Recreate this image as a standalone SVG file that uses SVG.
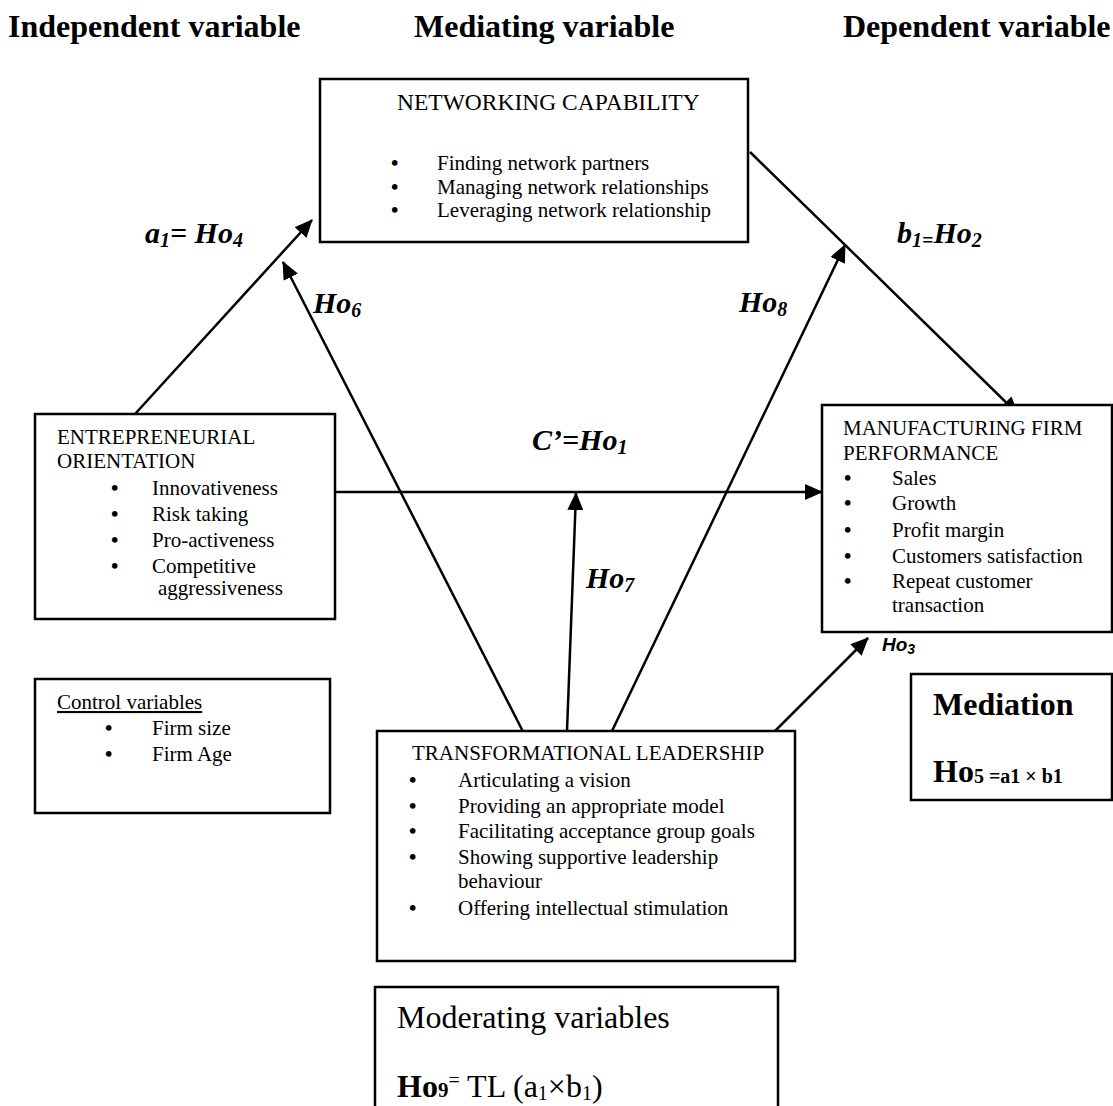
<svg xmlns="http://www.w3.org/2000/svg" width="1113" height="1106" viewBox="0 0 1113 1106">
  <style>
    .box { fill: #ffffff; stroke: #000000; stroke-width: 2.5; }
    .t { font-family: "Liberation Serif", "Times New Roman", serif; font-size: 21px; fill: #000000; }
    .b { font-family: "Liberation Serif", "Times New Roman", serif; font-size: 21px; font-weight: bold; fill: #000000; }
    .title { font-family: "Liberation Serif", "Times New Roman", serif; font-size: 23.5px; fill: #000000; }
    .head { font-family: "Liberation Serif", "Times New Roman", serif; font-size: 32px; font-weight: bold; fill: #000000; }
    .hyp { font-family: "Liberation Serif", "Times New Roman", serif; font-size: 30px; font-weight: bold; font-style: italic; fill: #000000; }
    .hyps { font-family: "Liberation Sans", Arial, sans-serif; font-size: 19px; font-weight: bold; font-style: italic; fill: #000000; }
    .big { font-family: "Liberation Serif", "Times New Roman", serif; font-size: 32px; fill: #000000; }
    .bold { font-weight: bold; }
    .sub { font-size: 20px; }
    .conn line { stroke: #000000; stroke-width: 2.5; fill: none; marker-end: url(#arrow); }
  </style>
  <defs>
    <marker id="arrow" markerUnits="userSpaceOnUse" markerWidth="18" markerHeight="16" refX="17" refY="8" orient="auto">
      <path d="M0,0 L18,8 L0,16 Z" fill="#000000"/>
    </marker>
  </defs>

  <rect width="1113" height="1106" fill="#ffffff"/>

  <!-- column headings -->
  <g id="headings">
    <text class="head" x="8" y="37">Independent variable</text>
    <text class="head" x="414" y="37">Mediating variable</text>
    <text class="head" x="843" y="37">Dependent variable</text>
  </g>

  <!-- connectors -->
  <g id="connectors" class="conn">
    <line x1="135" y1="414" x2="312" y2="220"/>
    <line x1="750" y1="152" x2="1018" y2="414"/>
    <line x1="335" y1="492" x2="822" y2="492"/>
    <line x1="522.7" y1="731" x2="283" y2="262"/>
    <line x1="567" y1="731" x2="576" y2="493"/>
    <line x1="612" y1="731" x2="845" y2="245"/>
    <line x1="775" y1="731" x2="868" y2="638"/>
  </g>

  <!-- hypothesis labels -->
  <g id="labels">
    <text class="hyp" x="145" y="243">a<tspan class="sub" dy="4">1</tspan><tspan dy="-4">= Ho</tspan><tspan class="sub" dy="4">4</tspan></text>
    <text class="hyp" x="897" y="243">b<tspan class="sub" dy="4">1=</tspan><tspan dy="-4">Ho</tspan><tspan class="sub" dy="4">2</tspan></text>
    <text class="hyp" x="313" y="313">Ho<tspan class="sub" dy="4">6</tspan></text>
    <text class="hyp" x="739" y="312">Ho<tspan class="sub" dy="4">8</tspan></text>
    <text class="hyp" x="532" y="450">C’=Ho<tspan class="sub" dy="4">1</tspan></text>
    <text class="hyp" x="586" y="588">Ho<tspan class="sub" dy="4">7</tspan></text>
    <text class="hyps" x="882" y="651">Ho<tspan font-size="14" dy="3">3</tspan></text>
  </g>

  <!-- mediator -->
  <g id="networking-capability">
    <rect class="box" x="320" y="79" width="428" height="163"/>
    <text class="title" x="397" y="110">NETWORKING CAPABILITY</text>
    <text class="b" x="391" y="170">•</text><text class="t" x="437" y="170">Finding network partners</text>
    <text class="b" x="391" y="194">•</text><text class="t" x="437" y="194">Managing network relationships</text>
    <text class="b" x="391" y="217">•</text><text class="t" x="437" y="217">Leveraging network relationship</text>
  </g>

  <!-- independent variable -->
  <g id="entrepreneurial-orientation">
    <rect class="box" x="35" y="414" width="300" height="205"/>
    <text class="t" x="57" y="444">ENTREPRENEURIAL</text>
    <text class="t" x="57" y="468">ORIENTATION</text>
    <text class="b" x="111" y="495">•</text><text class="t" x="152" y="495">Innovativeness</text>
    <text class="b" x="111" y="521">•</text><text class="t" x="152" y="521">Risk taking</text>
    <text class="b" x="111" y="547">•</text><text class="t" x="152" y="547">Pro-activeness</text>
    <text class="b" x="111" y="573">•</text><text class="t" x="152" y="573">Competitive</text>
    <text class="t" x="158" y="595">aggressiveness</text>
  </g>

  <!-- dependent variable -->
  <g id="firm-performance">
    <rect class="box" x="822" y="405" width="290" height="227"/>
    <text class="t" x="843" y="435">MANUFACTURING FIRM</text>
    <text class="t" x="843" y="460">PERFORMANCE</text>
    <text class="b" x="844" y="485">•</text><text class="t" x="892" y="485">Sales</text>
    <text class="b" x="844" y="510">•</text><text class="t" x="892" y="510">Growth</text>
    <text class="b" x="844" y="537">•</text><text class="t" x="892" y="537">Profit margin</text>
    <text class="b" x="844" y="563">•</text><text class="t" x="892" y="563">Customers satisfaction</text>
    <text class="b" x="844" y="588">•</text><text class="t" x="892" y="588">Repeat customer</text>
    <text class="t" x="892" y="612">transaction</text>
  </g>

  <!-- control variables -->
  <g id="control-variables">
    <rect class="box" x="35" y="679" width="295" height="134"/>
    <text class="t" x="57" y="709" text-decoration="underline">Control variables</text>
    <text class="b" x="105" y="735">•</text><text class="t" x="152" y="735">Firm size</text>
    <text class="b" x="105" y="761">•</text><text class="t" x="152" y="761">Firm Age</text>
  </g>

  <!-- moderator -->
  <g id="transformational-leadership">
    <rect class="box" x="377" y="731" width="418" height="230"/>
    <text class="t" x="412" y="760">TRANSFORMATIONAL LEADERSHIP</text>
    <text class="b" x="409" y="787">•</text><text class="t" x="458" y="787">Articulating a vision</text>
    <text class="b" x="409" y="813">•</text><text class="t" x="458" y="813">Providing an appropriate model</text>
    <text class="b" x="409" y="838">•</text><text class="t" x="458" y="838">Facilitating acceptance group goals</text>
    <text class="b" x="409" y="864">•</text><text class="t" x="458" y="864">Showing supportive leadership</text>
    <text class="t" x="458" y="888">behaviour</text>
    <text class="b" x="409" y="915">•</text><text class="t" x="458" y="915">Offering intellectual stimulation</text>
  </g>

  <!-- mediation formula -->
  <g id="mediation">
    <rect class="box" x="911" y="674" width="201" height="126"/>
    <text class="head" x="933" y="715" font-size="30">Mediation</text>
    <text class="head" x="933" y="782" font-size="31">Ho<tspan font-size="20" dy="1">5 =a1 × b1</tspan></text>
  </g>

  <!-- moderation formula -->
  <g id="moderating-variables">
    <rect class="box" x="375" y="987" width="403" height="140"/>
    <text class="big" x="397" y="1028">Moderating variables</text>
    <text class="big" x="397" y="1097"><tspan class="bold">Ho</tspan><tspan class="bold" font-size="21">9</tspan><tspan font-size="20" dy="-10">=</tspan><tspan dy="10"> TL (a</tspan><tspan font-size="20" dy="3">1</tspan><tspan dy="-3">×b</tspan><tspan font-size="20" dy="3">1</tspan><tspan dy="-3">)</tspan></text>
  </g>
</svg>
